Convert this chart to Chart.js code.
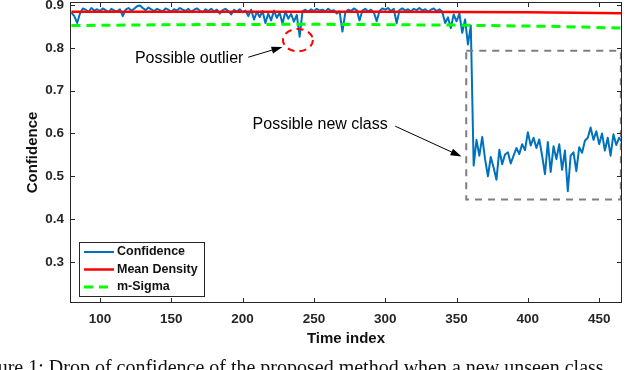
<!DOCTYPE html>
<html>
<head>
<meta charset="utf-8">
<script src="https://cdn.jsdelivr.net/npm/chart.js@4.4.1/dist/chart.umd.min.js"></script>
<style>
  html, body { margin: 0; padding: 0; background: #fff; }
  #wrap { position: relative; width: 640px; height: 370px; overflow: hidden; }
  #caption { position: absolute; left: -29px; top: 357px; font: 20px/20px "Liberation Serif", serif; color: #111; white-space: nowrap; }
</style>
</head>
<body>
<div id="wrap">
  <canvas id="chart" width="640" height="370"></canvas>
  <div id="caption">Figure 1: Drop of confidence of the proposed method when a new unseen class</div>
</div>
<script>
// tick labels
const xTicks = [100, 150, 200, 250, 300, 350, 400, 450];
const yTicks = [0.3, 0.4, 0.5, 0.6, 0.7, 0.8, 0.9];

// confidence, read every 2 time steps starting at 80
const startIndex = 80;
const indexStep = 2;
const confidence = [
  0.882, 0.874, 0.858, 0.880, 0.892, 0.889, 0.884, 0.893, 0.887, 0.890,
  0.886, 0.892, 0.888, 0.883, 0.891, 0.887, 0.885, 0.890, 0.874, 0.889,
  0.893, 0.887, 0.891, 0.897, 0.899, 0.893, 0.888, 0.894, 0.890, 0.886,
  0.891, 0.888, 0.885, 0.892, 0.889, 0.884, 0.890, 0.887, 0.893, 0.889,
  0.886, 0.891, 0.884, 0.889, 0.892, 0.887, 0.883, 0.890, 0.886, 0.891,
  0.885, 0.889, 0.880, 0.888, 0.891, 0.886, 0.878, 0.889, 0.884, 0.890,
  0.883, 0.887, 0.874, 0.889, 0.866, 0.884, 0.872, 0.886, 0.858, 0.880,
  0.864, 0.887, 0.870, 0.882, 0.856, 0.885, 0.868, 0.879, 0.861, 0.877,
  0.826, 0.885, 0.889, 0.884, 0.890, 0.886, 0.891, 0.887, 0.889, 0.885,
  0.891, 0.886, 0.888, 0.880, 0.885, 0.838, 0.882, 0.889, 0.886, 0.892,
  0.888, 0.864, 0.887, 0.891, 0.885, 0.889, 0.883, 0.862, 0.886, 0.892,
  0.889, 0.893, 0.886, 0.891, 0.857, 0.888, 0.892, 0.887, 0.890, 0.885,
  0.891, 0.888, 0.893, 0.887, 0.890, 0.884, 0.889, 0.892, 0.886, 0.890,
  0.884, 0.858, 0.871, 0.846, 0.878, 0.862, 0.880, 0.835, 0.866, 0.808,
  0.852, 0.525, 0.585, 0.548, 0.592, 0.540, 0.500, 0.545, 0.520, 0.492,
  0.562, 0.528, 0.551, 0.556, 0.530, 0.548, 0.566, 0.552, 0.575, 0.561,
  0.603, 0.572, 0.590, 0.566, 0.586, 0.548, 0.505, 0.580, 0.510, 0.570,
  0.540, 0.575, 0.515, 0.560, 0.465, 0.548, 0.556, 0.512, 0.568, 0.555,
  0.583, 0.590, 0.614, 0.585, 0.605, 0.575, 0.600, 0.560, 0.590, 0.548,
  0.598, 0.573, 0.590, 0.580
];

const meanX = [80, 200, 300, 400, 466];
const meanDensity = [0.884, 0.884, 0.884, 0.883, 0.881];

const sigmaX = [80, 150, 250, 350, 420, 466];
const mSigma = [0.852, 0.854, 0.855, 0.853, 0.850, 0.846];

const timeIndex = confidence.map((v, i) => startIndex + i * indexStep);

// annotations, in data units
const outlierText = [124.5, 0.774];
const outlierArrow = [204, 0.778, 228, 0.802];
const outlierRing = [238.8, 0.818, 10.5, 0.026];
const newClassText = [207, 0.621];
const newClassArrow = [307, 0.617, 353.5, 0.546];
const newClassBox = [356.8, 0.793, 465.2, 0.446];

const axisColor = '#262626';

function toPoints(xs, ys) {
  return ys.map((v, i) => ({ x: xs[i], y: v }));
}

function arrow(ctx, x1, y1, x2, y2) {
  const a = Math.atan2(y2 - y1, x2 - x1);
  const c = Math.cos(a), s = Math.sin(a);
  ctx.beginPath();
  ctx.moveTo(x1, y1);
  ctx.lineTo(x2 - 8 * c, y2 - 8 * s);
  ctx.stroke();
  ctx.beginPath();
  ctx.moveTo(x2, y2);
  ctx.lineTo(x2 - 11 * c + 3.5 * s, y2 - 11 * s - 3.5 * c);
  ctx.lineTo(x2 - 11 * c - 3.5 * s, y2 - 11 * s + 3.5 * c);
  ctx.closePath();
  ctx.fill();
}

const whiteBg = {
  id: 'whiteBg',
  beforeDraw(chart) {
    const ctx = chart.ctx;
    ctx.save();
    ctx.fillStyle = '#fff';
    ctx.fillRect(0, 0, chart.width, chart.height);
    ctx.restore();
  }
};

const notes = {
  id: 'notes',
  afterDatasetsDraw(chart) {
    const { ctx, scales: { x, y } } = chart;
    ctx.save();

    // dashed box round the new class
    ctx.strokeStyle = '#7f7f7f';
    ctx.lineWidth = 2;
    ctx.setLineDash([7, 6]);
    const bx1 = x.getPixelForValue(newClassBox[0]);
    const by1 = y.getPixelForValue(newClassBox[1]);
    const bx2 = x.getPixelForValue(newClassBox[2]);
    const by2 = y.getPixelForValue(newClassBox[3]);
    ctx.strokeRect(bx1, by1, bx2 - bx1, by2 - by1);

    // ring round the outlier
    ctx.strokeStyle = '#ff0000';
    ctx.setLineDash([7, 5]);
    const cx = x.getPixelForValue(outlierRing[0]);
    const cy = y.getPixelForValue(outlierRing[1]);
    const rx = x.getPixelForValue(outlierRing[0] + outlierRing[2]) - cx;
    const ry = cy - y.getPixelForValue(outlierRing[1] + outlierRing[3]);
    ctx.beginPath();
    ctx.ellipse(cx, cy, rx, ry, 0, 0, Math.PI * 2);
    ctx.stroke();

    // arrows
    ctx.setLineDash([]);
    ctx.strokeStyle = '#000';
    ctx.fillStyle = '#000';
    ctx.lineWidth = 1;
    arrow(ctx, x.getPixelForValue(outlierArrow[0]), y.getPixelForValue(outlierArrow[1]),
      x.getPixelForValue(outlierArrow[2]), y.getPixelForValue(outlierArrow[3]));
    arrow(ctx, x.getPixelForValue(newClassArrow[0]), y.getPixelForValue(newClassArrow[1]),
      x.getPixelForValue(newClassArrow[2]), y.getPixelForValue(newClassArrow[3]));

    // labels
    ctx.font = '16px "Liberation Sans", Arial, sans-serif';
    ctx.textBaseline = 'middle';
    ctx.textAlign = 'left';
    ctx.fillStyle = '#000';
    ctx.fillText('Possible outlier', x.getPixelForValue(outlierText[0]), y.getPixelForValue(outlierText[1]));
    ctx.fillText('Possible new class', x.getPixelForValue(newClassText[0]), y.getPixelForValue(newClassText[1]));
    ctx.restore();
  }
};

const frame = {
  id: 'frame',
  afterDraw(chart) {
    const { ctx, chartArea: a, scales: { x, y } } = chart;
    ctx.save();
    ctx.strokeStyle = axisColor;
    ctx.lineWidth = 1;
    ctx.strokeRect(a.left + 0.5, a.top + 0.5, a.right - a.left - 1, a.bottom - a.top - 1);
    ctx.beginPath();
    xTicks.forEach(v => {
      const px = Math.round(x.getPixelForValue(v)) + 0.5;
      ctx.moveTo(px, a.bottom); ctx.lineTo(px, a.bottom - 5);
      ctx.moveTo(px, a.top); ctx.lineTo(px, a.top + 5);
    });
    yTicks.forEach(v => {
      const py = Math.round(y.getPixelForValue(v)) + 0.5;
      ctx.moveTo(a.left, py); ctx.lineTo(a.left + 5, py);
      ctx.moveTo(a.right, py); ctx.lineTo(a.right - 5, py);
    });
    ctx.stroke();

    // legend box, bottom left inside the axes
    const ds = chart.data.datasets;
    const lx = a.left + 9, ly = a.bottom - 61, lw = 125, lh = 54;
    ctx.fillStyle = '#fff';
    ctx.fillRect(lx, ly, lw, lh);
    ctx.strokeStyle = axisColor;
    ctx.strokeRect(lx + 0.5, ly + 0.5, lw, lh);
    ctx.font = 'bold 12.5px "Liberation Sans", Arial, sans-serif';
    ctx.textBaseline = 'middle';
    ds.forEach((d, i) => {
      const rowY = ly + 10 + i * 17.5;
      ctx.strokeStyle = d.borderColor;
      ctx.lineWidth = d.borderWidth;
      ctx.setLineDash(d.borderDash || []);
      ctx.beginPath();
      ctx.moveTo(lx + 5, rowY); ctx.lineTo(lx + 35, rowY);
      ctx.stroke();
      ctx.fillStyle = '#111';
      ctx.fillText(d.label, lx + 38, rowY);
    });
    ctx.restore();
  }
};

new Chart(document.getElementById('chart').getContext('2d'), {
  type: 'line',
  data: {
    datasets: [
      {
        label: 'Confidence',
        data: toPoints(timeIndex, confidence),
        borderColor: '#0072bd',
        borderWidth: 2,
        order: 3
      },
      {
        label: 'Mean Density',
        data: toPoints(meanX, meanDensity),
        borderColor: '#ff0000',
        borderWidth: 2.5,
        order: 2
      },
      {
        label: 'm-Sigma',
        data: toPoints(sigmaX, mSigma),
        borderColor: '#00ff00',
        borderWidth: 3,
        borderDash: [9, 6],
        order: 1
      }
    ]
  },
  options: {
    responsive: false,
    animation: false,
    layout: { padding: { top: 2, right: 18, left: 0, bottom: 0 } },
    elements: { point: { radius: 0 }, line: { tension: 0, borderJoinStyle: 'round' } },
    plugins: { legend: { display: false }, tooltip: { enabled: false } },
    scales: {
      x: {
        type: 'linear',
        min: 79,
        max: 466,
        afterFit: s => { s.height = 67; s.paddingLeft = 0; s.paddingRight = 0; },
        afterBuildTicks: s => { s.ticks = xTicks.map(v => ({ value: v })); },
        grid: { display: false, drawTicks: false },
        border: { display: false },
        ticks: {
          autoSkip: false, maxRotation: 0, padding: 8, color: axisColor,
          font: { family: '"Liberation Sans", Arial, sans-serif', size: 13.5, weight: 'bold' },
          callback: v => String(v)
        },
        title: {
          display: true, text: 'Time index', color: '#111',
          font: { family: '"Liberation Sans", Arial, sans-serif', size: 15, weight: 'bold' },
          padding: { top: 0, bottom: 22.6 }
        }
      },
      y: {
        min: 0.204,
        max: 0.907,
        afterFit: s => { s.width = 70; s.paddingTop = 0; s.paddingBottom = 0; },
        afterBuildTicks: s => { s.ticks = yTicks.map(v => ({ value: v })); },
        grid: { display: false, drawTicks: false },
        border: { display: false },
        ticks: {
          padding: 6, color: axisColor,
          font: { family: '"Liberation Sans", Arial, sans-serif', size: 13.5, weight: 'bold' },
          callback: v => v.toFixed(1)
        },
        title: {
          display: true, text: 'Confidence', color: '#111',
          font: { family: '"Liberation Sans", Arial, sans-serif', size: 15, weight: 'bold' },
          padding: { top: 23.6, bottom: 0 }
        }
      }
    }
  },
  plugins: [whiteBg, notes, frame]
});
</script>
</body>
</html>
